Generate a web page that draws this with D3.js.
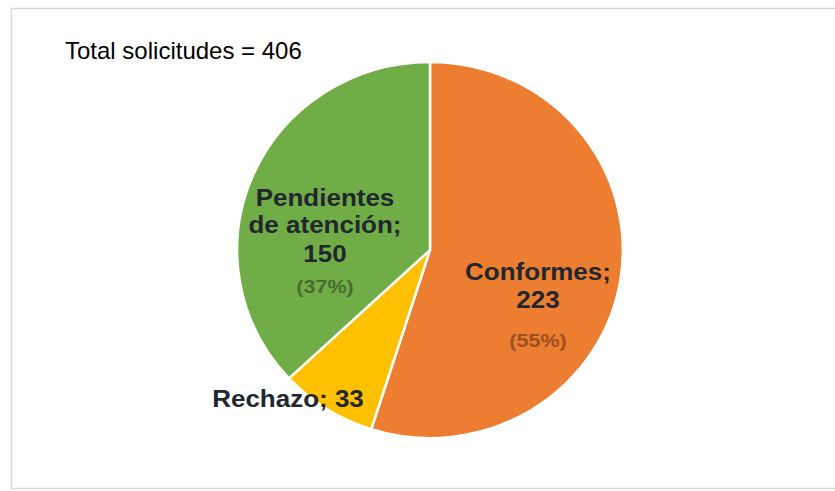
<!DOCTYPE html>
<html>
<head>
<meta charset="utf-8">
<script src="https://cdn.jsdelivr.net/npm/d3@7"></script>
<style>
  html, body { margin: 0; padding: 0; background: #ffffff; }
  svg { display: block; }
</style>
</head>
<body>
<svg id="chart" width="835" height="491"></svg>
<script>
// ---- data ----
const categories = ["Conformes", "Rechazo", "Pendientes de atención"];
const values = [223, 33, 150];
const percents = ["(55%)", "", "(37%)"];
const colors = ["#ED7D31", "#FFC000", "#70AD47"];
const percentColors = ["#9C5020", "#9A7400", "#4A6B2F"];
const titleText = "Total solicitudes = 406";

// label lines per slice (text only)
const labelLines = [
  ["Conformes;", "223"],
  ["Rechazo; 33"],
  ["Pendientes", "de atención;", "150"]
];

// ---- layout ----
const W = 835, H = 491;
const cx = 430, cy = 250, R = 190;
const stretch = 1.13;
const labelLayout = [
  { x: 538, ys: [280, 308], py: 347 },
  { x: 288, ys: [407], py: null },
  { x: 325, ys: [206, 233, 262], py: 293 }
];

const svg = d3.select("#chart");

// frame
svg.append("rect")
  .attr("x", 11.5).attr("y", 8.5)
  .attr("width", 840).attr("height", 480)
  .attr("fill", "#ffffff")
  .attr("stroke", "#d9d9d9")
  .attr("stroke-width", 1.5);

// title
svg.append("text")
  .attr("x", 65).attr("y", 59)
  .attr("font-family", "'Liberation Sans', Arial, sans-serif")
  .attr("font-size", 24)
  .attr("fill", "#000000")
  .text(titleText);

const pie = d3.pie().sort(null).value(d => d);
const arcs = pie(values);
const arc = d3.arc().innerRadius(0).outerRadius(R);

const g = svg.append("g").attr("transform", `translate(${cx},${cy}) scale(1.015,0.99)`);
g.selectAll("path")
  .data(arcs)
  .join("path")
  .attr("d", arc)
  .attr("fill", (d, i) => colors[i])
  .attr("stroke", "#ffffff")
  .attr("stroke-width", 2.5)
  .attr("stroke-linejoin", "round");

// labels
arcs.forEach((a, i) => {
  const L = labelLayout[i];
  labelLines[i].forEach((line, j) => {
    svg.append("text")
      .attr("transform", `translate(${L.x},${L.ys[j]}) scale(${stretch},1)`)
      .attr("text-anchor", "middle")
      .attr("font-family", "'Liberation Sans', Arial, sans-serif")
      .attr("font-weight", "bold")
      .attr("font-size", 23)
      .attr("fill", "#22262e")
      .text(line);
  });
  if (percents[i] && L.py) {
    svg.append("text")
      .attr("transform", `translate(${L.x},${L.py}) scale(${stretch},1)`)
      .attr("text-anchor", "middle")
      .attr("font-family", "'Liberation Sans', Arial, sans-serif")
      .attr("font-weight", "bold")
      .attr("font-size", 19)
      .attr("fill", percentColors[i])
      .text(percents[i]);
  }
});
</script>
</body>
</html>
